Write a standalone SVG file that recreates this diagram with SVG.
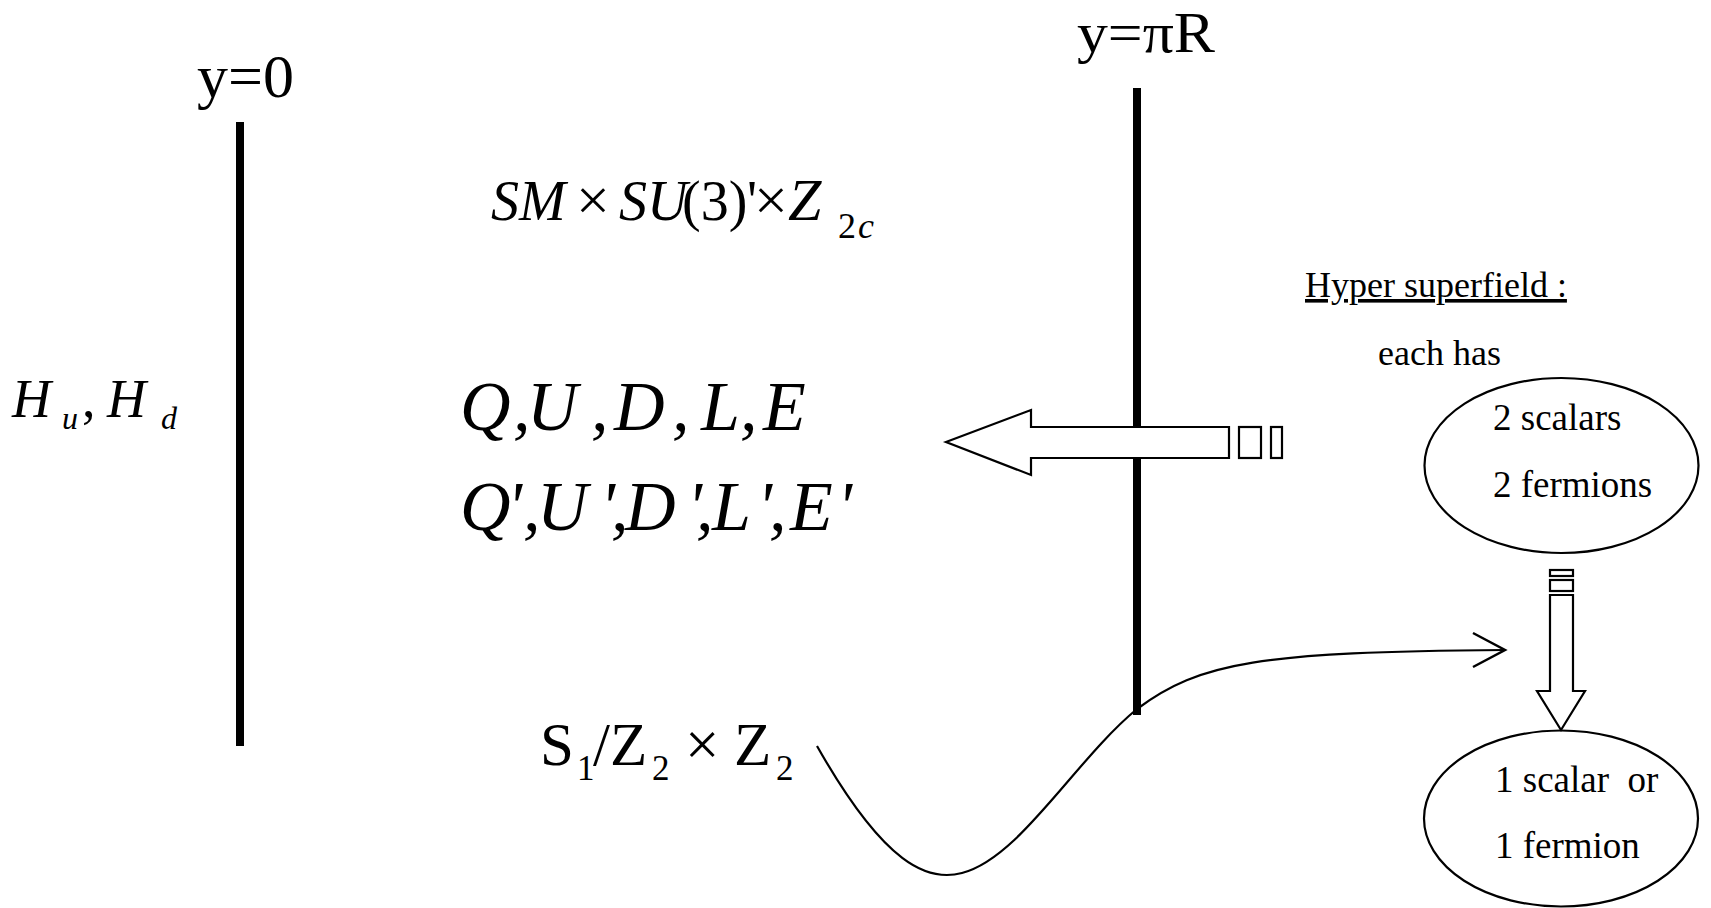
<svg xmlns="http://www.w3.org/2000/svg" width="1711" height="908" viewBox="0 0 1711 908">
<style>
.t{font-family:"Liberation Serif","Times New Roman",serif;fill:#000}
.i{font-style:italic}
.ln{stroke:#000;fill:none}
.o{stroke:#000;stroke-width:2.2;fill:#fff}
</style>
<rect width="1711" height="908" fill="#fff"/>
<g id="brane0">
<line class="ln" x1="240" y1="122" x2="240" y2="746" stroke-width="8"/>
<text class="t" x="197" y="97" font-size="62">y=0</text>
</g>
<g id="braneR">
<line class="ln" x1="1137" y1="88" x2="1137" y2="715" stroke-width="8"/>
<text class="t" x="1077" y="52" font-size="58" textLength="138" lengthAdjust="spacingAndGlyphs">y=πR</text>
</g>
<g id="group">
<text class="t i" font-size="56" y="220"><tspan x="491">SM</tspan><tspan x="576" font-style="normal" font-size="60">×</tspan><tspan x="619">SU</tspan><tspan x="682" font-style="normal">(3)</tspan><tspan x="747" font-style="normal">'</tspan><tspan x="754" font-style="normal" font-size="60">×</tspan><tspan x="788" font-size="60">Z</tspan></text>
<text class="t i" font-size="36" y="238"><tspan x="838" font-style="normal">2</tspan><tspan x="858">c</tspan></text>
</g>
<g id="higgs">
<text class="t i" font-size="54" y="417"><tspan x="12">H</tspan><tspan x="82" font-style="normal">,</tspan><tspan x="107">H</tspan></text>
<text class="t i" font-size="32" y="429"><tspan x="62">u</tspan><tspan x="161">d</tspan></text>
</g>
<g id="matter">
<text class="t i" font-size="70" y="430" x="460 513 527 591 614 672 701 740 763">Q,U,D,L,E</text>
<text class="t i" font-size="70" y="530" x="460 507 523 537 600 611 625 687 696 712 757 769 790 837">Q',U',D',L',E'</text>
</g>
<g id="orbifold">
<text class="t" font-size="61" y="765"><tspan x="540">S</tspan><tspan x="593">/Z</tspan><tspan x="685">×</tspan><tspan x="734">Z</tspan></text>
<text class="t" font-size="35" y="780"><tspan x="577">1</tspan><tspan x="652">2</tspan><tspan x="776">2</tspan></text>
</g>
<g id="hyper">
<text class="t" font-size="36" x="1305" y="297" text-decoration="underline">Hyper superfield :</text>
<text class="t" font-size="36" x="1378" y="365">each has</text>
</g>
<g id="ellipse1">
<ellipse class="o" cx="1561.5" cy="465.5" rx="137" ry="87.5"/>
<text class="t" font-size="37" x="1493" y="430">2 scalars</text>
<text class="t" font-size="37" x="1493" y="497">2 fermions</text>
</g>
<g id="ellipse2">
<ellipse class="o" cx="1561" cy="818.5" rx="137" ry="88"/>
<text class="t" font-size="37" x="1495" y="792" xml:space="preserve">1 scalar  or</text>
<text class="t" font-size="37" x="1495" y="858">1 fermion</text>
</g>
<g id="connectors">
<path class="o" d="M946,442 L1031,410 L1031,427 L1229,427 L1229,458 L1031,458 L1031,475 Z"/>
<rect class="o" x="1239" y="427" width="22" height="31"/>
<rect class="o" x="1271" y="427" width="11" height="31"/>
<path class="o" d="M1561,730 L1537,691 L1550,691 L1550,595 L1573,595 L1573,691 L1585,691 Z"/>
<rect class="o" x="1550" y="580" width="23" height="11"/>
<rect class="o" x="1550" y="570" width="23" height="6"/>
<path class="ln" stroke-width="2.2" d="M817,746 C885,866 928,882 962,873 C1020,858 1075,760 1137,709 C1200,662 1260,652 1505,650"/>
<path class="ln" stroke-width="2.5" d="M1473,633 L1505,650 L1473,667"/>
</g>
</svg>
